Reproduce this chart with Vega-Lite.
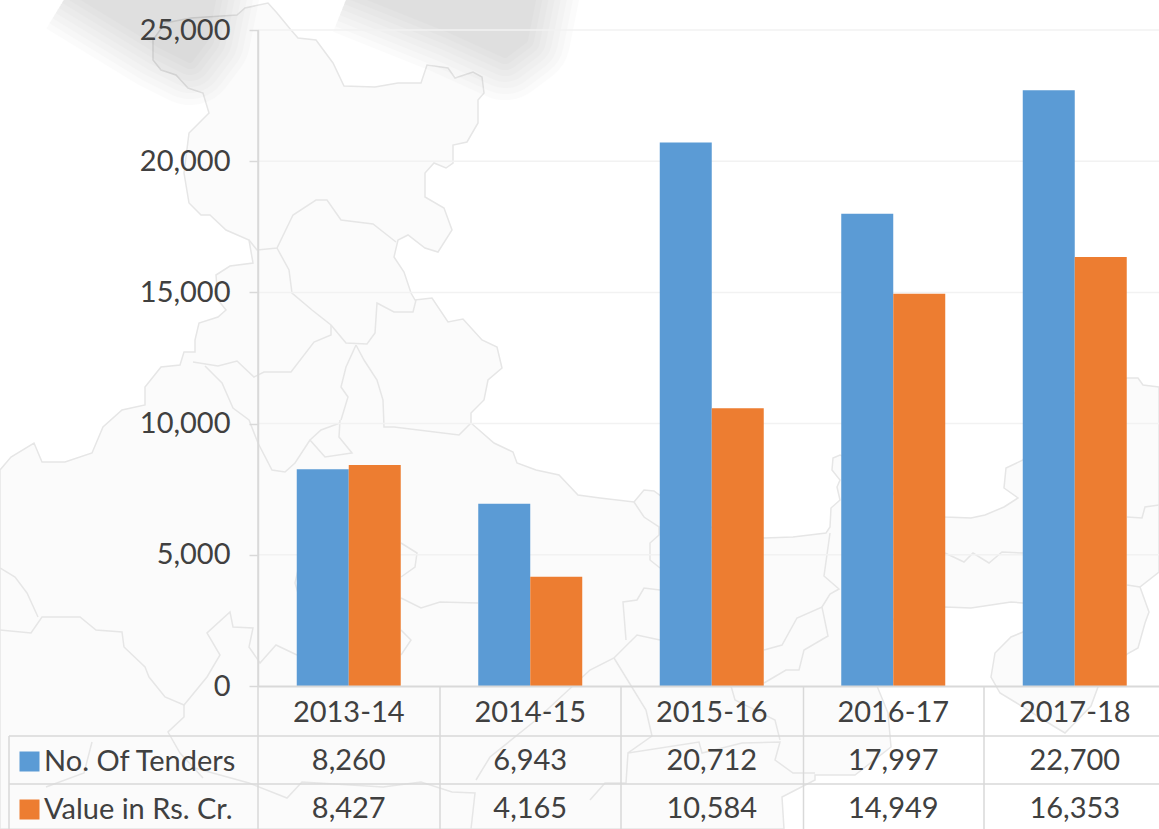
{"$schema":"https://vega.github.io/schema/vega-lite/v6.json","width":1159,"height":829,"padding":0,"autosize":{"type":"none"},"background":"#ffffff","config":{"font":"Lato","view":{"stroke":null}},
"datasets":{"bars":[
{"year":"2013-14","series":"No. Of  Tenders","value":8260},{"year":"2014-15","series":"No. Of  Tenders","value":6943},{"year":"2015-16","series":"No. Of  Tenders","value":20712},{"year":"2016-17","series":"No. Of  Tenders","value":17997},{"year":"2017-18","series":"No. Of  Tenders","value":22700},
{"year":"2013-14","series":"Value in Rs. Cr.","value":8427},{"year":"2014-15","series":"Value in Rs. Cr.","value":4165},{"year":"2015-16","series":"Value in Rs. Cr.","value":10584},{"year":"2016-17","series":"Value in Rs. Cr.","value":14949},{"year":"2017-18","series":"Value in Rs. Cr.","value":16353}],
"land":[{"lon":0,"lat":17.1},{"lon":0,"lat":53},{"lon":1.1,"lat":54.3},{"lon":3.4,"lat":55.7},{"lon":4.2,"lat":53.8},{"lon":6.5,"lat":53.8},{"lon":9.2,"lat":54.7},{"lon":10.3,"lat":57.3},{"lon":12.2,"lat":59},{"lon":14.5,"lat":59.5},{"lon":14.5,"lat":61.3},{"lon":16.1,"lat":63.3},{"lon":18,"lat":63.5},{"lon":18.4,"lat":64.8},{"lon":19.5,"lat":64.8},{"lon":19.5,"lat":66},{"lon":19.9,"lat":67.7},{"lon":21.8,"lat":68.3},{"lon":22.6,"lat":69},{"lon":21.8,"lat":70},{"lon":21.6,"lat":72.5},{"lon":23,"lat":73.4},{"lon":25.3,"lat":73.7},{"lon":24.9,"lat":76},{"lon":22.6,"lat":77},{"lon":21,"lat":78.5},{"lon":20.1,"lat":78.5},{"lon":18.9,"lat":79.7},{"lon":18.4,"lat":82.7},{"lon":18.9,"lat":86.7},{"lon":20.9,"lat":88.7},{"lon":20.3,"lat":90.7},{"lon":18.8,"lat":91.2},{"lon":17.6,"lat":92.5},{"lon":16.1,"lat":93},{"lon":15.3,"lat":94},{"lon":15.3,"lat":96},{"lon":16.5,"lat":97.7},{"lon":19.1,"lat":98.2},{"lon":23.7,"lat":98.5},{"lon":24.5,"lat":99.2},{"lon":26.8,"lat":99.7},{"lon":27.7,"lat":98.7},{"lon":29.1,"lat":97},{"lon":29.8,"lat":96.2},{"lon":31.6,"lat":96},{"lon":33.3,"lat":93.7},{"lon":34.4,"lat":91.4},{"lon":37.5,"lat":91.3},{"lon":39.8,"lat":91.7},{"lon":42.1,"lat":91.7},{"lon":42.7,"lat":93.5},{"lon":44.8,"lat":93.2},{"lon":45.5,"lat":92.2},{"lon":47.3,"lat":92.8},{"lon":48.2,"lat":92.3},{"lon":48.4,"lat":90.7},{"lon":47.8,"lat":90},{"lon":47.8,"lat":87.7},{"lon":46.7,"lat":85.8},{"lon":45.3,"lat":85.5},{"lon":45.3,"lat":83.7},{"lon":44.6,"lat":83.2},{"lon":43.4,"lat":83.7},{"lon":42.5,"lat":82.7},{"lon":42.5,"lat":80.3},{"lon":44.4,"lat":79.2},{"lon":45.2,"lat":77},{"lon":43.8,"lat":74.8},{"lon":42.5,"lat":75.2},{"lon":40.8,"lat":76.5},{"lon":39.8,"lat":76},{"lon":39.4,"lat":74.3},{"lon":40.4,"lat":72.8},{"lon":41.1,"lat":70.7},{"lon":41.5,"lat":70},{"lon":43.2,"lat":70.2},{"lon":44.8,"lat":67.8},{"lon":46.3,"lat":68.1},{"lon":48.2,"lat":66},{"lon":49.7,"lat":65.3},{"lon":50.2,"lat":63.2},{"lon":48.8,"lat":62},{"lon":48.4,"lat":60},{"lon":47.1,"lat":58.7},{"lon":47.1,"lat":57.7},{"lon":49.4,"lat":55.7},{"lon":51.3,"lat":54.8},{"lon":51.7,"lat":53.7},{"lon":53.6,"lat":53},{"lon":55.9,"lat":52.5},{"lon":57.8,"lat":50.5},{"lon":60,"lat":50.2},{"lon":63.4,"lat":49.8},{"lon":64.4,"lat":51},{"lon":65.4,"lat":50.9},{"lon":70,"lat":47.5},{"lon":76.4,"lat":46.2},{"lon":79.3,"lat":46.3},{"lon":82.6,"lat":46.7},{"lon":83,"lat":47.3},{"lon":83.1,"lat":49.2},{"lon":84,"lat":50},{"lon":83.7,"lat":51.3},{"lon":84,"lat":52},{"lon":83.2,"lat":53},{"lon":83.3,"lat":54.2},{"lon":84,"lat":54.5},{"lon":88,"lat":53},{"lon":90,"lat":49.5},{"lon":94.5,"lat":48.3},{"lon":97.1,"lat":48.2},{"lon":98.5,"lat":48.5},{"lon":100.4,"lat":49.3},{"lon":101.8,"lat":50.2},{"lon":100.4,"lat":51.2},{"lon":100.6,"lat":53.2},{"lon":102.3,"lat":54},{"lon":105,"lat":60},{"lon":112.7,"lat":62.2},{"lon":113.8,"lat":62.2},{"lon":114.3,"lat":61.5},{"lon":115.9,"lat":61.3},{"lon":115.9,"lat":42.8},{"lon":114,"lat":41.3},{"lon":114.9,"lat":38.8},{"lon":114.5,"lat":37.7},{"lon":113.8,"lat":35.2},{"lon":112.7,"lat":34.6},{"lon":109.8,"lat":31.3},{"lon":109.1,"lat":29.4},{"lon":106.5,"lat":26.7},{"lon":105.5,"lat":27.3},{"lon":101.5,"lat":29.8},{"lon":100,"lat":30.7},{"lon":99.1,"lat":32.3},{"lon":99.5,"lat":34.7},{"lon":101.1,"lat":36.3},{"lon":102.3,"lat":36.8},{"lon":104,"lat":38.5},{"lon":102.3,"lat":39.7},{"lon":101.1,"lat":39.8},{"lon":97.1,"lat":39.2},{"lon":94.5,"lat":39.3},{"lon":90,"lat":39},{"lon":88,"lat":36},{"lon":87.7,"lat":31.4},{"lon":88.8,"lat":28.7},{"lon":89.1,"lat":25.3},{"lon":85.5,"lat":22.5},{"lon":81.5,"lat":22.5},{"lon":81.5,"lat":22},{"lon":78.2,"lat":20.3},{"lon":78.4,"lat":17.1},{"lon":0,"lat":17.1}],
"borders":[
{"s":"l1","lon":24.9,"lat":76},{"s":"l1","lon":25.7,"lat":75},{"s":"l1","lon":27.7,"lat":75.2},{"s":"l1","lon":29.3,"lat":78.5},{"s":"l1","lon":31.6,"lat":80},{"s":"l1","lon":32.7,"lat":80},{"s":"l1","lon":34.1,"lat":78},{"s":"l1","lon":37.3,"lat":77.6},{"s":"l1","lon":39.6,"lat":75.8},
{"s":"l2","lon":27.7,"lat":75.2},{"s":"l2","lon":28.9,"lat":73},{"s":"l2","lon":29.2,"lat":70.7},{"s":"l2","lon":31.2,"lat":69},{"s":"l2","lon":33.1,"lat":67.5},{"s":"l2","lon":34.6,"lat":65.7},{"s":"l2","lon":36.7,"lat":65.6},{"s":"l2","lon":37.5,"lat":66.7},{"s":"l2","lon":37.7,"lat":69.7},{"s":"l2","lon":39.4,"lat":68.8},{"s":"l2","lon":41.3,"lat":68.8},{"s":"l2","lon":41.6,"lat":70},
{"s":"l3","lon":33.1,"lat":67.5},{"s":"l3","lon":33.1,"lat":66.5},{"s":"l3","lon":31.4,"lat":65.8},{"s":"l3","lon":29.1,"lat":62.8},{"s":"l3","lon":26.4,"lat":62.8},{"s":"l3","lon":25.4,"lat":62.3},{"s":"l3","lon":23.7,"lat":63.9},{"s":"l3","lon":21.8,"lat":63.4},{"s":"l3","lon":19.3,"lat":63.8},
{"s":"l4","lon":20.5,"lat":63.4},{"s":"l4","lon":22.2,"lat":61.7},{"s":"l4","lon":23.3,"lat":59.2},{"s":"l4","lon":24.9,"lat":58},{"s":"l4","lon":25.8,"lat":55.7},{"s":"l4","lon":27.2,"lat":53},{"s":"l4","lon":28.5,"lat":52.8},{"s":"l4","lon":29.5,"lat":53.7},{"s":"l4","lon":31,"lat":56},
{"s":"l5","lon":34,"lat":57.7},{"s":"l5","lon":32.1,"lat":57},{"s":"l5","lon":31,"lat":56},{"s":"l5","lon":32.5,"lat":54.3},{"s":"l5","lon":35.2,"lat":54.7},{"s":"l5","lon":33.9,"lat":56.3},{"s":"l5","lon":34,"lat":58},
{"s":"l6","lon":35.6,"lat":65.5},{"s":"l6","lon":34.6,"lat":63.3},{"s":"l6","lon":34.1,"lat":61.3},{"s":"l6","lon":34.8,"lat":60.3},{"s":"l6","lon":34.1,"lat":58},
{"s":"l7","lon":35.6,"lat":65.5},{"s":"l7","lon":36.4,"lat":64},{"s":"l7","lon":37.7,"lat":62},{"s":"l7","lon":38.3,"lat":60},{"s":"l7","lon":38.4,"lat":57.3},{"s":"l7","lon":39.4,"lat":57.3},{"s":"l7","lon":45.9,"lat":56.5},{"s":"l7","lon":47.1,"lat":57.7},
{"s":"l8","lon":40.1,"lat":40.2},{"s":"l8","lon":42.1,"lat":39.2},{"s":"l8","lon":44,"lat":39.8},{"s":"l8","lon":47.8,"lat":39.7},
{"s":"l9","lon":40.1,"lat":45.7},{"s":"l9","lon":41.7,"lat":44.7},{"s":"l9","lon":41.5,"lat":43.3},{"s":"l9","lon":40.1,"lat":42.3},
{"s":"l10","lon":40.1,"lat":37},{"s":"l10","lon":41.1,"lat":36},{"s":"l10","lon":40.1,"lat":34.5},
{"s":"l11","lon":29.8,"lat":43},{"s":"l11","lon":29.5,"lat":41.7},{"s":"l11","lon":29.8,"lat":40.7},
{"s":"l12","lon":0,"lat":37},{"s":"l12","lon":3.1,"lat":36.7},{"s":"l12","lon":4.2,"lat":38.3},{"s":"l12","lon":8,"lat":38.3},{"s":"l12","lon":9.6,"lat":37},{"s":"l12","lon":12.2,"lat":36.8},{"s":"l12","lon":12.4,"lat":35.3},{"s":"l12","lon":14.5,"lat":33.3},{"s":"l12","lon":14.9,"lat":32.3},{"s":"l12","lon":16.5,"lat":30.3},{"s":"l12","lon":18.4,"lat":29.5},{"s":"l12","lon":20.7,"lat":32.3},{"s":"l12","lon":22,"lat":34.5},{"s":"l12","lon":20.7,"lat":36.7},{"s":"l12","lon":23,"lat":38.8},{"s":"l12","lon":23.3,"lat":37.3},{"s":"l12","lon":25.3,"lat":37.2},{"s":"l12","lon":24.9,"lat":35.3},{"s":"l12","lon":26,"lat":33.7},{"s":"l12","lon":27.6,"lat":35.5},{"s":"l12","lon":29.7,"lat":34.5},
{"s":"l13","lon":0,"lat":43.2},{"s":"l13","lon":1.5,"lat":42.3},{"s":"l13","lon":2.7,"lat":40.7},{"s":"l13","lon":3.8,"lat":38.3},
{"s":"l14","lon":18.4,"lat":29.5},{"s":"l14","lon":18.4,"lat":28.3},{"s":"l14","lon":16.8,"lat":26.8},{"s":"l14","lon":18,"lat":24.7},{"s":"l14","lon":20.3,"lat":22.2},
{"s":"l15","lon":9.2,"lat":25.8},{"s":"l15","lon":8.4,"lat":22.7},{"s":"l15","lon":4.6,"lat":21.3},
{"s":"l16","lon":19.1,"lat":23.3},{"s":"l16","lon":24.9,"lat":21.7},{"s":"l16","lon":28.7,"lat":20.2},{"s":"l16","lon":30.2,"lat":21.8},{"s":"l16","lon":38.3,"lat":21.3},{"s":"l16","lon":42.1,"lat":21.8},{"s":"l16","lon":45.2,"lat":20.8},{"s":"l16","lon":47.5,"lat":20.7},{"s":"l16","lon":47.1,"lat":17.1},
{"s":"l17","lon":47.6,"lat":22},{"s":"l17","lon":49,"lat":24.3},{"s":"l17","lon":53.6,"lat":28},{"s":"l17","lon":59,"lat":33},{"s":"l17","lon":61.4,"lat":34.2},{"s":"l17","lon":63.7,"lat":36.5},{"s":"l17","lon":66,"lat":36},
{"s":"l18","lon":61.4,"lat":34.2},{"s":"l18","lon":64.6,"lat":29},{"s":"l18","lon":65.2,"lat":26.4},{"s":"l18","lon":62.8,"lat":24.7},{"s":"l18","lon":62.6,"lat":21.7},{"s":"l18","lon":60.5,"lat":21.7},{"s":"l18","lon":59,"lat":20},
{"s":"l19","lon":62.8,"lat":24.7},{"s":"l19","lon":69.9,"lat":25.8},{"s":"l19","lon":70.2,"lat":24.7},{"s":"l19","lon":74.2,"lat":25.7},{"s":"l19","lon":78,"lat":25.8},{"s":"l19","lon":77.5,"lat":24},{"s":"l19","lon":79.3,"lat":22.7},{"s":"l19","lon":81.5,"lat":22.7},
{"s":"l20","lon":73.1,"lat":31.4},{"s":"l20","lon":73.5,"lat":30},{"s":"l20","lon":77.5,"lat":28},{"s":"l20","lon":78,"lat":26},
{"s":"l21","lon":76.4,"lat":31.7},{"s":"l21","lon":78.6,"lat":33},{"s":"l21","lon":79.9,"lat":33},{"s":"l21","lon":80.4,"lat":35},{"s":"l21","lon":82.8,"lat":36.4},{"s":"l21","lon":82.2,"lat":39.3},{"s":"l21","lon":79.7,"lat":38.2},{"s":"l21","lon":78.2,"lat":35.5},{"s":"l21","lon":76.4,"lat":35},
{"s":"l22","lon":82.2,"lat":39.3},{"s":"l22","lon":83,"lat":40.6},{"s":"l22","lon":83.9,"lat":41.1},{"s":"l22","lon":82.4,"lat":42.4},{"s":"l22","lon":83,"lat":46.7},
{"s":"l23","lon":66,"lat":41},{"s":"l23","lon":64.4,"lat":41.2},{"s":"l23","lon":63.7,"lat":40},{"s":"l23","lon":62.3,"lat":39.8},{"s":"l23","lon":62.6,"lat":36},
{"s":"l24","lon":63.4,"lat":49.8},{"s":"l24","lon":64.4,"lat":48.3},{"s":"l24","lon":65.9,"lat":47.3},{"s":"l24","lon":65.9,"lat":46.5},{"s":"l24","lon":65,"lat":45.7},{"s":"l24","lon":65,"lat":44},{"s":"l24","lon":66,"lat":43.2},
{"s":"l25","lon":94.5,"lat":44.7},{"s":"l25","lon":96.4,"lat":43.8},{"s":"l25","lon":97.3,"lat":44.7},{"s":"l25","lon":98.9,"lat":43.7},{"s":"l25","lon":100.2,"lat":44.8},{"s":"l25","lon":102.3,"lat":44.7},
{"s":"l26","lon":112.7,"lat":48.3},{"s":"l26","lon":114.2,"lat":48.2},{"s":"l26","lon":114.5,"lat":49.3},{"s":"l26","lon":115.9,"lat":49.5},
{"s":"l27","lon":112.7,"lat":41.5},{"s":"l27","lon":114,"lat":41.3}],
"shadow":[
{"s":"a","lon":7,"lat":101},{"s":"a","lon":16,"lat":95.5},{"s":"a","lon":19,"lat":94},{"s":"a","lon":20.5,"lat":96},{"s":"a","lon":21.5,"lat":101},{"s":"a","lon":7,"lat":101},
{"s":"b","lon":35,"lat":101},{"s":"b","lon":45,"lat":97},{"s":"b","lon":50.5,"lat":94.5},{"s":"b","lon":52.5,"lat":96},{"s":"b","lon":53.5,"lat":101},{"s":"b","lon":35,"lat":101}],
"gridH":[{"v":5000},{"v":10000},{"v":15000},{"v":20000},{"v":25000}],
"tableH":[{"a":0.9,"b":115.9,"lat":26.4,"lat2":26.4},{"a":0.9,"b":115.9,"lat":21.6,"lat2":21.6},{"a":0.9,"b":0.9,"lat":26.4,"lat2":17.1},{"a":25.8,"b":25.8,"lat":97,"lat2":17.1},{"a":44,"b":44,"lat":31.4,"lat2":17.1},{"a":62.1,"b":62.1,"lat":31.4,"lat2":17.1},{"a":80.35,"b":80.35,"lat":31.4,"lat2":17.1},{"a":98.4,"b":98.4,"lat":31.4,"lat2":17.1}]},
"layer":[
{"data":{"name":"land"},"mark":{"type":"line","fill":"#fbfbfb","stroke":"#e6e6e6","strokeWidth":1.5,"clip":true},"encoding":{"x":{"field":"lon","type":"quantitative","scale":{"domain":[0,115.9],"nice":false,"zero":false},"axis":null},"y":{"field":"lat","type":"quantitative","scale":{"domain":[17.1,100],"nice":false,"zero":false},"axis":null},"order":{"value":null}}},
{"data":{"name":"borders"},"mark":{"type":"line","stroke":"#e6e6e6","strokeWidth":1.5},"encoding":{"detail":{"field":"s"},"x":{"field":"lon","type":"quantitative","scale":{"domain":[0,115.9],"nice":false,"zero":false},"axis":null},"y":{"field":"lat","type":"quantitative","scale":{"domain":[17.1,100],"nice":false,"zero":false},"axis":null},"order":{"value":null}}},
{"data":{"name":"shadow"},"mark":{"type":"line","fill":"#000000","stroke":"#000000","strokeWidth":90,"strokeJoin":"round","opacity":0.011},"encoding":{"detail":{"field":"s"},"x":{"field":"lon","type":"quantitative","scale":{"domain":[0,115.9],"nice":false,"zero":false},"axis":null},"y":{"field":"lat","type":"quantitative","scale":{"domain":[17.1,100],"nice":false,"zero":false},"axis":null},"order":{"value":null}}},
{"data":{"name":"shadow"},"mark":{"type":"line","fill":"#000000","stroke":"#000000","strokeWidth":78,"strokeJoin":"round","opacity":0.011},"encoding":{"detail":{"field":"s"},"x":{"field":"lon","type":"quantitative","scale":{"domain":[0,115.9],"nice":false,"zero":false},"axis":null},"y":{"field":"lat","type":"quantitative","scale":{"domain":[17.1,100],"nice":false,"zero":false},"axis":null},"order":{"value":null}}},
{"data":{"name":"shadow"},"mark":{"type":"line","fill":"#000000","stroke":"#000000","strokeWidth":66,"strokeJoin":"round","opacity":0.011},"encoding":{"detail":{"field":"s"},"x":{"field":"lon","type":"quantitative","scale":{"domain":[0,115.9],"nice":false,"zero":false},"axis":null},"y":{"field":"lat","type":"quantitative","scale":{"domain":[17.1,100],"nice":false,"zero":false},"axis":null},"order":{"value":null}}},
{"data":{"name":"shadow"},"mark":{"type":"line","fill":"#000000","stroke":"#000000","strokeWidth":54,"strokeJoin":"round","opacity":0.011},"encoding":{"detail":{"field":"s"},"x":{"field":"lon","type":"quantitative","scale":{"domain":[0,115.9],"nice":false,"zero":false},"axis":null},"y":{"field":"lat","type":"quantitative","scale":{"domain":[17.1,100],"nice":false,"zero":false},"axis":null},"order":{"value":null}}},
{"data":{"name":"shadow"},"mark":{"type":"line","fill":"#000000","stroke":"#000000","strokeWidth":42,"strokeJoin":"round","opacity":0.011},"encoding":{"detail":{"field":"s"},"x":{"field":"lon","type":"quantitative","scale":{"domain":[0,115.9],"nice":false,"zero":false},"axis":null},"y":{"field":"lat","type":"quantitative","scale":{"domain":[17.1,100],"nice":false,"zero":false},"axis":null},"order":{"value":null}}},
{"data":{"name":"shadow"},"mark":{"type":"line","fill":"#000000","stroke":"#000000","strokeWidth":30,"strokeJoin":"round","opacity":0.011},"encoding":{"detail":{"field":"s"},"x":{"field":"lon","type":"quantitative","scale":{"domain":[0,115.9],"nice":false,"zero":false},"axis":null},"y":{"field":"lat","type":"quantitative","scale":{"domain":[17.1,100],"nice":false,"zero":false},"axis":null},"order":{"value":null}}},
{"data":{"name":"shadow"},"mark":{"type":"line","fill":"#000000","stroke":"#000000","strokeWidth":18,"strokeJoin":"round","opacity":0.011},"encoding":{"detail":{"field":"s"},"x":{"field":"lon","type":"quantitative","scale":{"domain":[0,115.9],"nice":false,"zero":false},"axis":null},"y":{"field":"lat","type":"quantitative","scale":{"domain":[17.1,100],"nice":false,"zero":false},"axis":null},"order":{"value":null}}},
{"data":{"name":"shadow"},"mark":{"type":"line","fill":"#000000","stroke":"#000000","strokeWidth":6,"strokeJoin":"round","opacity":0.011},"encoding":{"detail":{"field":"s"},"x":{"field":"lon","type":"quantitative","scale":{"domain":[0,115.9],"nice":false,"zero":false},"axis":null},"y":{"field":"lat","type":"quantitative","scale":{"domain":[17.1,100],"nice":false,"zero":false},"axis":null},"order":{"value":null}}},
{"data":{"name":"gridH"},"mark":{"type":"rule","stroke":"#f2f2f2","strokeWidth":1.5},"encoding":{"y":{"field":"v","type":"quantitative","scale":{"domain":[0,25000],"range":[686,30],"nice":false},"axis":null},"x":{"datum":25.8,"type":"quantitative","scale":{"domain":[0,115.9],"nice":false,"zero":false},"axis":null},"x2":{"datum":115.9}}},
{"data":{"name":"tableH"},"mark":{"type":"rule","stroke":"#d9d9d9","strokeWidth":1.5},"encoding":{"x":{"field":"a","type":"quantitative","scale":{"domain":[0,115.9],"nice":false,"zero":false},"axis":null},"x2":{"field":"b"},"y":{"field":"lat","type":"quantitative","scale":{"domain":[17.1,100],"nice":false,"zero":false},"axis":null},"y2":{"field":"lat2"}}},
{"data":{"name":"bars"},"mark":{"type":"bar"},"encoding":{"x":{"field":"year","type":"nominal","sort":null,"scale":{"range":[258,1165.5],"paddingInner":0.427,"paddingOuter":0.2135},"axis":{"title":null,"orient":"bottom","offset":-143,"ticks":false,"labelAngle":0,"labelFontSize":29,"labelColor":"#404040","labelPadding":12,"domainColor":"#d9d9d9","domainWidth":2,"zindex":1}},"xOffset":{"field":"series","type":"nominal","sort":null},"y":{"field":"value","type":"quantitative","scale":{"domain":[0,25000],"range":[686,30],"nice":false},"axis":{"title":null,"values":[0,5000,10000,15000,20000,25000],"format":",.0f","offset":-258,"grid":false,"labelFontSize":29,"labelColor":"#404040","labelPadding":19,"tickSize":9,"tickColor":"#d9d9d9","tickWidth":1.5,"domainColor":"#d9d9d9","domainWidth":1.5,"zindex":1}},"color":{"field":"series","type":"nominal","sort":null,"scale":{"domain":["No. Of  Tenders","Value in Rs. Cr."],"range":["#5b9bd5","#ed7d31"]},"legend":{"title":null,"orient":"none","legendX":15,"legendY":747,"padding":0,"symbolType":"square","symbolSize":400,"symbolStrokeWidth":0,"labelFontSize":29,"labelColor":"#404040","labelOffset":0,"labelLimit":300,"rowPadding":18,"direction":"vertical"}}}},
{"data":{"name":"bars"},"mark":{"type":"text","fontSize":29,"color":"#404040"},"encoding":{"x":{"field":"year","type":"nominal","sort":null,"scale":{"range":[258,1165.5],"paddingInner":0.427,"paddingOuter":0.2135},"axis":null},"y":{"field":"series","type":"nominal","sort":null,"scale":{"type":"point","domain":["No. Of  Tenders","Value in Rs. Cr."],"range":[761,809],"padding":0},"axis":null},"text":{"field":"value","type":"quantitative","format":","}}}
],
"resolve":{"scale":{"x":"independent","y":"independent"},"axis":{"x":"independent","y":"independent"}}}
